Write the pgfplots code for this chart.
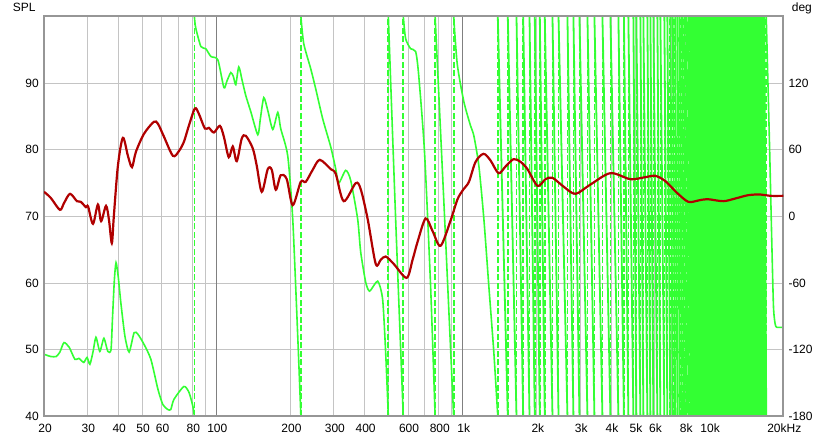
\documentclass[border=0pt]{standalone}
\usepackage{fontspec}
\setmainfont{Liberation Sans}
\usepackage{pgfplots}
\pgfplotsset{compat=1.18}

\definecolor{splred}{RGB}{176,0,0}
\definecolor{phgreen}{RGB}{51,255,51}
\definecolor{gridgray}{RGB}{196,196,196}
\definecolor{darkgrid}{RGB}{128,128,128}
\definecolor{framegray}{RGB}{150,150,150}

\begin{document}
\begin{tikzpicture}[font=\fontsize{12}{14}\selectfont]
\useasboundingbox (-44pt,-24.5pt) rectangle (796pt,416.5pt);

% phase axis: grid, green curve, right labels
\begin{axis}[
  scale only axis, width=739.3pt, height=400pt,
  xmode=log, xmin=20, xmax=20000,
  ymin=-180, ymax=180, unbounded coords=jump,
  major tick length=0pt,
  tick label style={font=\fontsize{12}{14}\selectfont},
  xtick={30,40,50,60,70,80,90,100,200,300,400,500,600,700,800,900,1000,2000,3000,4000,5000,6000,7000,8000,9000,10000},
  xticklabels={},
  ytick={-180,-120,-60,0,60,120,180},
  yticklabels={-180,-120,-60,0,60,120,},
  yticklabel pos=right,
  yticklabel style={anchor=west, inner sep=0pt, xshift=5pt},
  xmajorgrids, ymajorgrids,
  major grid style={draw=gridgray, line width=0.9pt},
  axis line style={draw=none},
]
% darker decade lines
\addplot[darkgrid, line width=0.9pt, forget plot] table[row sep=\\] {x y\\
100 -180\\100 180\\100 nan\\1000 -180\\1000 180\\1000 nan\\};

% dashed wrap lines
\addplot[phgreen, line width=1.7pt, dash pattern=on 6pt off 2.5pt, forget plot]
  table[row sep=\\] {x y\\
  81.5 -180\\81.5 180\\81.5 nan\\ 220.5 -180\\220.5 180\\220.5 nan\\
  499.2 -180\\499.2 180\\499.2 nan\\ 574 -180\\574 180\\574 nan\\
  773 -180\\773 180\\773 nan\\ 919 -180\\919 180\\919 nan\\
  1388 -180\\1388 180\\1388 nan\\ 1524 -180\\1524 180\\1524 nan\\
  1653 -180\\1653 180\\1653 nan\\ 1760 -180\\1760 180\\1760 nan\\
  1867 -180\\1867 180\\1867 nan\\ 1961 -180\\1961 180\\1961 nan\\
  2055 -180\\2055 180\\2055 nan\\ 2153 -180\\2153 180\\2153 nan\\
  2314 -180\\2314 180\\2314 nan\\ 2448 -180\\2448 180\\2448 nan\\
  2661 -180\\2661 180\\2661 nan\\ 2814 -180\\2814 180\\2814 nan\\
  2977 -180\\2977 180\\2977 nan\\ 3208 -180\\3208 180\\3208 nan\\
  3424 -180\\3424 180\\3424 nan\\ 3690 -180\\3690 180\\3690 nan\\
  3976 -180\\3976 180\\3976 nan\\ 4284 -180\\4284 180\\4284 nan\\
  4510 -180\\4510 180\\4510 nan\\ 4702 -180\\4702 180\\4702 nan\\
  4927 -180\\4927 180\\4927 nan\\ 5067 -180\\5067 180\\5067 nan\\
  5260 -180\\5260 180\\5260 nan\\ 5410 -180\\5410 180\\5410 nan\\
  5616 -180\\5616 180\\5616 nan\\ 5776 -180\\5776 180\\5776 nan\\
  5940 -180\\5940 180\\5940 nan\\ 6166 -180\\6166 180\\6166 nan\\
  6340 -180\\6340 180\\6340 nan\\ 6582 -180\\6582 180\\6582 nan\\
  6768 -180\\6768 180\\6768 nan\\ 6960 -180\\6960 180\\6960 nan\\
  7120 -180\\7120 180\\7120 nan\\ 7280 -180\\7280 180\\7280 nan\\
  7440 -180\\7440 180\\7440 nan\\ 7600 -180\\7600 180\\7600 nan\\
  7760 -180\\7760 180\\7760 nan\\ 7920 -180\\7920 180\\7920 nan\\
  8080 -180\\8080 180\\8080 nan\\ 8240 -180\\8240 180\\8240 nan\\
  8400 -180\\8400 180\\8400 nan\\ 8560 -180\\8560 180\\8560 nan\\
  8720 -180\\8720 180\\8720 nan\\ 8880 -180\\8880 180\\8880 nan\\
  9040 -180\\9040 180\\9040 nan\\ 9200 -180\\9200 180\\9200 nan\\
  9360 -180\\9360 180\\9360 nan\\ 9520 -180\\9520 180\\9520 nan\\
  9680 -180\\9680 180\\9680 nan\\ 9840 -180\\9840 180\\9840 nan\\
  10000 -180\\10000 180\\10000 nan\\ 10160 -180\\10160 180\\10160 nan\\
  10320 -180\\10320 180\\10320 nan\\ 10480 -180\\10480 180\\10480 nan\\
  10640 -180\\10640 180\\10640 nan\\ 10800 -180\\10800 180\\10800 nan\\
  10960 -180\\10960 180\\10960 nan\\ 11120 -180\\11120 180\\11120 nan\\
  11280 -180\\11280 180\\11280 nan\\ 11440 -180\\11440 180\\11440 nan\\
  11600 -180\\11600 180\\11600 nan\\ 11760 -180\\11760 180\\11760 nan\\
  11920 -180\\11920 180\\11920 nan\\ 12080 -180\\12080 180\\12080 nan\\
  12240 -180\\12240 180\\12240 nan\\ 12400 -180\\12400 180\\12400 nan\\
  12560 -180\\12560 180\\12560 nan\\ 12720 -180\\12720 180\\12720 nan\\
  12880 -180\\12880 180\\12880 nan\\ 13040 -180\\13040 180\\13040 nan\\
  13200 -180\\13200 180\\13200 nan\\ 13360 -180\\13360 180\\13360 nan\\
  13520 -180\\13520 180\\13520 nan\\ 13680 -180\\13680 180\\13680 nan\\
  13840 -180\\13840 180\\13840 nan\\ 14000 -180\\14000 180\\14000 nan\\
  14160 -180\\14160 180\\14160 nan\\ 14320 -180\\14320 180\\14320 nan\\
  14480 -180\\14480 180\\14480 nan\\ 14640 -180\\14640 180\\14640 nan\\
  14800 -180\\14800 180\\14800 nan\\ 14960 -180\\14960 180\\14960 nan\\
  15130 -180\\15130 180\\15130 nan\\ 15350 -180\\15350 180\\15350 nan\\
  15630 -180\\15630 180\\15630 nan\\ 15880 -180\\15880 180\\15880 nan\\
  16130 -180\\16130 180\\16130 nan\\ 16430 -180\\16430 180\\16430 nan\\
  16740 -180\\16740 180\\16740 nan\\ 17050 -180\\17050 180\\17050 nan\\
  };

% low frequency phase segments
\addplot[phgreen, line width=1.6pt, smooth, tension=0.4] table {
x y
20 -124
21.3 -126
22.4 -126
23.2 -122
24.1 -113.5
25.3 -117.7
26.7 -128.6
27.7 -127.7
29.0 -131.3
29.9 -126.8
30.7 -133
31.6 -122
32.5 -108.7
33.7 -121.4
35.0 -109.6
36.3 -121.4
37.4 -120
37.9 -93
38.6 -57
39.2 -41.6
40.0 -54
41.0 -77.5
42.6 -107.8
44.3 -122
46.4 -104.6
48.1 -106
50.9 -115
54.3 -128.6
58.0 -155.6
60.7 -169.2
63.6 -173.7
65.4 -173.7
67.3 -164.7
73.9 -153
77.5 -158.3
80.4 -171
81.5 -180
81.5 nan
81.5 180
82.5 170
86.6 153
90.7 151
95.1 144
101.5 141
107.4 116
110.5 122
114.6 129.6
117.3 126
120.0 118.7
123.4 134.6
127.5 122
131.8 108.7
138.1 94.3
147.4 73.6
151 88
155.9 107
162 95
169.6 78.3
177.7 93.7
182.7 79
195.0 54.6
204.3 -2.2
214.1 -107.8
220.5 -180
220.5 nan
220.5 180
226.4 155.7
241.7 133
253.2 115
270.3 88
291.4 62.7
305.3 42.9
314 30.1
335.2 41.5
351.2 32.5
374.8 -2.3
385.6 -32
404 -59.1
419.2 -67.2
451.8 -58.2
473.2 -74.4
486.8 -122.3
499.2 -180
499.2 nan
499.2 180
534.4 -2
574 -180
574 nan
574 180
586.8 160
614.8 151
644.2 148.5
662.4 128
700 58
741 -63
773 -180
773 nan
773 180
844 0
919 -180
919 nan
919 180
950.6 137
1010.8 103.3
1076 81.7
1110 72.6
1163 45.6
1218.6 -2.2
1276.6 -62.7
1337.6 -122.3
1388 -180
1388 nan
17050 180
17590 62.7
17980 -27.5
18250 -81.7
18540 -97
18840 -99.7
20000 -99.7
};

% wrapped phase, mid and high frequencies
\addplot[phgreen, line width=1.8pt, sharp plot] table[row sep=\\] {x y\\
1388 180\\1524 -180\\1524 nan\\ 1524 180\\1653 -180\\1653 nan\\
1653 180\\1760 -180\\1760 nan\\ 1760 180\\1867 -180\\1867 nan\\
1867 180\\1961 -180\\1961 nan\\ 1961 180\\2055 -180\\2055 nan\\
2055 180\\2153 -180\\2153 nan\\ 2153 180\\2314 -180\\2314 nan\\
2314 180\\2448 -180\\2448 nan\\ 2448 180\\2661 -180\\2661 nan\\
2661 180\\2814 -180\\2814 nan\\ 2814 180\\2977 -180\\2977 nan\\
2977 180\\3208 -180\\3208 nan\\ 3208 180\\3424 -180\\3424 nan\\
3424 180\\3690 -180\\3690 nan\\ 3690 180\\3976 -180\\3976 nan\\
3976 180\\4284 -180\\4284 nan\\ 4284 180\\4510 -180\\4510 nan\\
4510 180\\4702 -180\\4702 nan\\ 4702 180\\4927 -180\\4927 nan\\
4927 180\\5067 -180\\5067 nan\\ 5067 180\\5260 -180\\5260 nan\\
5260 180\\5410 -180\\5410 nan\\ 5410 180\\5616 -180\\5616 nan\\
5616 180\\5776 -180\\5776 nan\\ 5776 180\\5940 -180\\5940 nan\\
5940 180\\6166 -180\\6166 nan\\ 6166 180\\6340 -180\\6340 nan\\
6340 180\\6582 -180\\6582 nan\\ 6582 180\\6768 -180\\6768 nan\\
6768 180\\6960 -180\\6960 nan\\ 6960 180\\7120 -180\\7120 nan\\
7120 180\\7280 -180\\7280 nan\\ 7280 180\\7440 -180\\7440 nan\\
7440 180\\7600 -180\\7600 nan\\ 7600 180\\7760 -180\\7760 nan\\
7760 180\\7920 -180\\7920 nan\\ 7920 180\\8080 -180\\8080 nan\\
8080 180\\8240 -180\\8240 nan\\ 8240 180\\8400 -180\\8400 nan\\
8400 180\\8560 -180\\8560 nan\\ 8560 180\\8720 -180\\8720 nan\\
8720 180\\8880 -180\\8880 nan\\ 8880 180\\9040 -180\\9040 nan\\
9040 180\\9200 -180\\9200 nan\\ 9200 180\\9360 -180\\9360 nan\\
9360 180\\9520 -180\\9520 nan\\ 9520 180\\9680 -180\\9680 nan\\
9680 180\\9840 -180\\9840 nan\\ 9840 180\\10000 -180\\10000 nan\\
10000 180\\10160 -180\\10160 nan\\ 10160 180\\10320 -180\\10320 nan\\
10320 180\\10480 -180\\10480 nan\\ 10480 180\\10640 -180\\10640 nan\\
10640 180\\10800 -180\\10800 nan\\ 10800 180\\10960 -180\\10960 nan\\
10960 180\\11120 -180\\11120 nan\\ 11120 180\\11280 -180\\11280 nan\\
11280 180\\11440 -180\\11440 nan\\ 11440 180\\11600 -180\\11600 nan\\
11600 180\\11760 -180\\11760 nan\\ 11760 180\\11920 -180\\11920 nan\\
11920 180\\12080 -180\\12080 nan\\ 12080 180\\12240 -180\\12240 nan\\
12240 180\\12400 -180\\12400 nan\\ 12400 180\\12560 -180\\12560 nan\\
12560 180\\12720 -180\\12720 nan\\ 12720 180\\12880 -180\\12880 nan\\
12880 180\\13040 -180\\13040 nan\\ 13040 180\\13200 -180\\13200 nan\\
13200 180\\13360 -180\\13360 nan\\ 13360 180\\13520 -180\\13520 nan\\
13520 180\\13680 -180\\13680 nan\\ 13680 180\\13840 -180\\13840 nan\\
13840 180\\14000 -180\\14000 nan\\ 14000 180\\14160 -180\\14160 nan\\
14160 180\\14320 -180\\14320 nan\\ 14320 180\\14480 -180\\14480 nan\\
14480 180\\14640 -180\\14640 nan\\ 14640 180\\14800 -180\\14800 nan\\
14800 180\\14960 -180\\14960 nan\\ 14960 180\\15130 -180\\15130 nan\\
15130 180\\15350 -180\\15350 nan\\ 15350 180\\15630 -180\\15630 nan\\
15630 180\\15880 -180\\15880 nan\\ 15880 180\\16130 -180\\16130 nan\\
16130 180\\16430 -180\\16430 nan\\ 16430 180\\16740 -180\\16740 nan\\
16740 180\\17050 -180\\17050 nan\\
};
\end{axis}

% SPL axis: frame, red curve, left and bottom labels
\begin{axis}[
  scale only axis, width=739.3pt, height=400pt,
  xmode=log, xmin=20, xmax=20000,
  ymin=40, ymax=100,
  clip mode=individual,
  major tick length=0pt,
  tick label style={font=\fontsize{12}{14}\selectfont},
  xtick={20,30,40,50,60,80,100,200,300,400,600,800,1000,2000,3000,4000,5000,6000,8000,10000,20000},
  xticklabels={20,30,40,50,60,80,100,200,300,400,600,800,1k,2k,3k,4k,5k,6k,8k,10k,20kHz},
  xticklabel style={anchor=north, inner sep=0pt, yshift=-7pt, xshift=1pt},
  ytick={40,50,60,70,80,90},
  yticklabels={40,50,60,70,80,90},
  yticklabel style={anchor=east, inner sep=0pt, xshift=-5pt},
  axis line style={draw=framegray, line width=2pt},
]
\addplot[splred, line width=2.2pt, smooth, tension=0.5] table {
x y
20 73.7
21.3 72.8
23.2 71.0
24.1 72.0
25.5 73.4
27.2 72.3
28.2 72.2
29.6 71.4
30.2 71.5
31.6 68.9
33.1 71.8
34.1 69.3
35.7 71.6
36.7 69.5
37.7 66.0
38.4 70
39.9 77.6
41.8 81.8
43.8 79.1
45.5 77.4
47.2 79.7
50.9 82.4
55.8 84.2
58.0 83.9
61.3 82
66.7 79.1
70.5 79.8
73.9 81.2
77.4 83.6
81.9 86.2
85.0 85.4
89.9 83.2
93.3 83.3
97.8 82.6
103.4 83.6
107.3 82
112.4 78.9
116.7 80.5
121.1 78.3
126.9 81.7
131.8 82.1
140.7 80.2
146.0 77.6
153.0 73.7
161.8 77.1
168.0 77.0
174.4 74.0
182.7 76.2
193.2 75.6
204.3 71.7
220.2 75.2
230.7 75.2
246.2 77
263.0 78.5
291.4 77.1
305.3 76.4
329.0 72.3
368 75
385.6 74.1
411.6 69.6
443.6 62.9
464.8 63.5
486.8 64
524.6 62.9
592 60.8
626 63.5
656 66.2
707 69.7
755 67.8
813 65.6
893 69.4
953 72.6
1008 74.1
1060 75.2
1128 78.2
1215 79.4
1297 78.4
1398 76.5
1492 77.5
1608 78.6
1716 78.2
1832 77.1
2011 74.6
2168 75.6
2314 75.8
2564 74.5
2867 73.4
3300 74.8
3976 76.5
4790 75.6
5510 75.9
6052 76.1
6645 75.3
7432 73.5
8234 72.2
9038 72.4
9832 72.6
11412 72.3
12766 72.7
14416 73.2
16124 73.3
17702 73.1
20000 73.1
};
\node[anchor=base east, xshift=-5pt, yshift=5pt] at (rel axis cs:0,1) {SPL};
\node[anchor=base west, xshift=5pt, yshift=5pt] at (rel axis cs:1,1) {deg};
\end{axis}
\end{tikzpicture}
\end{document}
